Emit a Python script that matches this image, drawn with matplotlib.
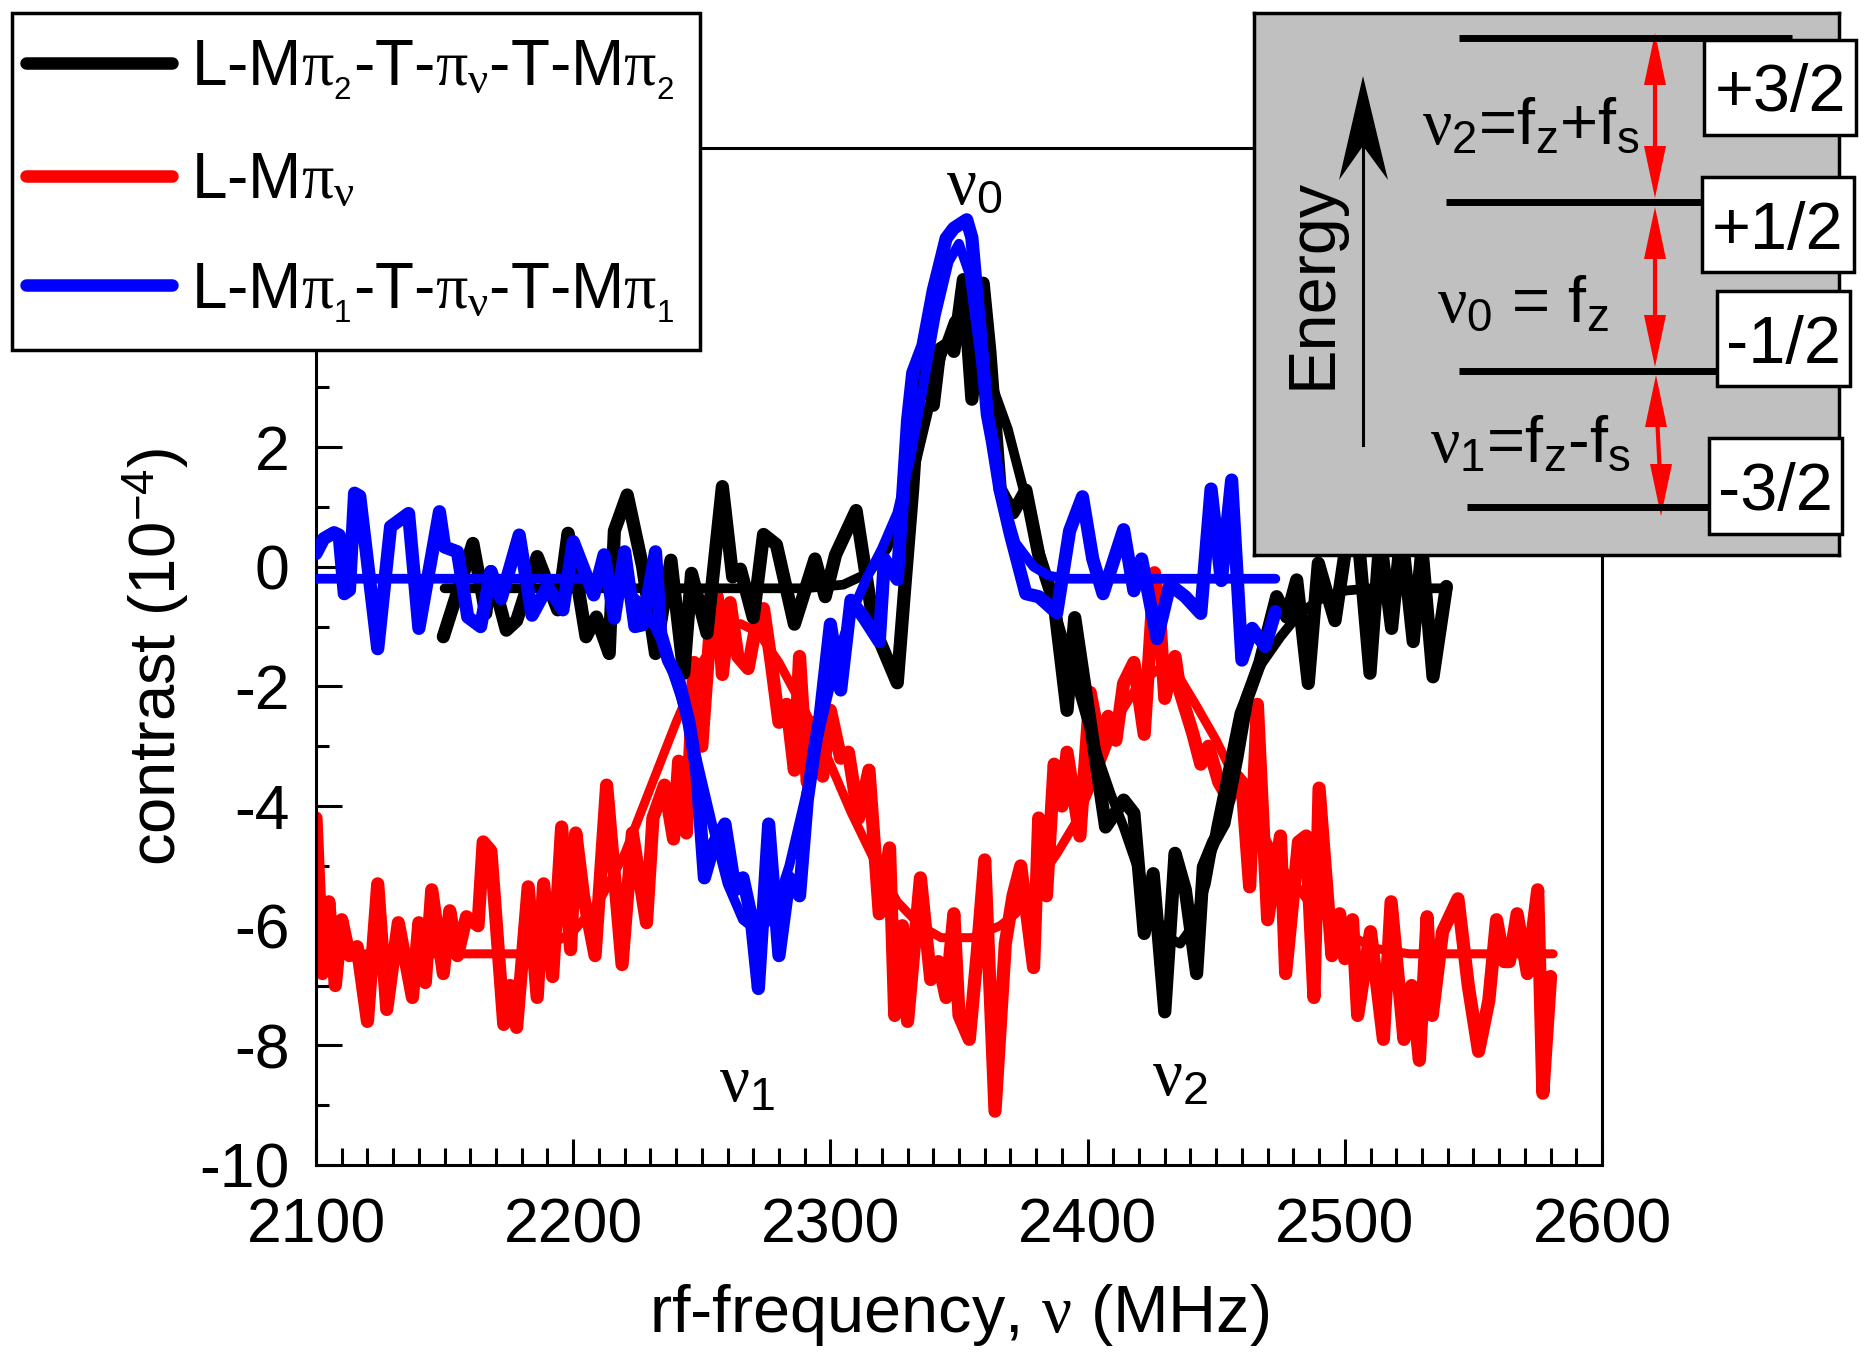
import matplotlib
matplotlib.use("Agg")
import matplotlib.pyplot as plt
import numpy as np
from matplotlib.patches import Rectangle, Polygon
from matplotlib.ticker import MultipleLocator

plt.rcParams['font.family'] = ['Liberation Sans', 'DejaVu Sans']
plt.rcParams['mathtext.fontset'] = 'custom'
plt.rcParams['mathtext.rm'] = 'Liberation Sans'
plt.rcParams['mathtext.it'] = 'Liberation Serif'
plt.rcParams['mathtext.bf'] = 'Liberation Sans:bold'
plt.rcParams['axes.unicode_minus'] = False

# ---- measured data (MHz, contrast in 1e-4) ----
red_f = [2100, 2102.5, 2105, 2107.5, 2110, 2113, 2116, 2120, 2124, 2127.5, 2132, 2137.5, 2140, 2142.5,
         2145, 2149.5, 2152, 2155, 2158.5, 2163, 2165, 2168, 2173, 2175.5, 2178, 2182.5, 2186, 2188.5,
         2192, 2195.5, 2199, 2201, 2204, 2208.5, 2213, 2219, 2223, 2228.5, 2231, 2235.5, 2239, 2241,
         2244, 2247, 2250, 2253, 2256, 2258, 2261, 2264, 2268, 2271, 2274, 2277, 2280, 2283, 2286,
         2288, 2291, 2294, 2297, 2300, 2304, 2307, 2311, 2315, 2319, 2323, 2325, 2328, 2330, 2335,
         2339, 2342, 2345, 2348, 2350, 2354, 2357, 2360, 2364, 2368, 2371, 2374, 2379, 2381, 2384,
         2387, 2390, 2392, 2397, 2401, 2405, 2408, 2411, 2414, 2418, 2422, 2426, 2428, 2430, 2434,
         2436, 2441, 2444, 2447, 2451, 2455, 2458, 2460, 2463, 2466, 2470, 2475, 2477, 2482, 2485,
         2488, 2490, 2495, 2498, 2500, 2503, 2505, 2510, 2515, 2518, 2523, 2526, 2529, 2532, 2534,
         2538, 2544, 2548, 2552, 2556, 2559, 2562, 2564, 2567, 2571, 2575, 2577, 2580]
red_c = [-4.2, -6.8, -5.6, -7.0, -5.9, -6.5, -6.35, -7.6, -5.3, -7.4, -5.95, -7.2, -5.95, -6.95,
         -5.4, -6.8, -5.75, -6.5, -5.85, -6.0, -4.6, -4.75, -7.65, -7.0, -7.7, -5.35, -7.2, -5.3,
         -6.85, -4.35, -6.4, -4.45, -5.5, -6.5, -3.65, -6.65, -4.45, -5.95, -4.2, -3.65, -4.55, -3.25,
         -4.45, -1.6, -3.0, -1.2, -0.5, -1.8, -0.6, -1.5, -1.7, -1.0, -0.7, -1.6, -2.6, -2.3, -3.4,
         -1.5, -3.6, -2.6, -3.5, -2.4, -3.2, -3.1, -4.2, -3.4, -5.8, -4.7, -7.5, -6.0, -7.6, -5.2,
         -6.9, -6.6, -7.2, -5.8, -7.5, -7.9, -6.5, -4.9, -9.1, -6.3, -5.5, -5.0, -6.7, -4.2, -5.5,
         -3.3, -4.0, -3.1, -4.5, -2.1, -3.0, -2.5, -2.9, -1.95, -1.6, -2.8, -0.1, -0.8, -2.2, -1.5,
         -2.1, -2.8, -3.3, -3.0, -3.6, -3.9, -3.5, -3.6, -5.35, -2.3, -5.9, -4.5, -6.8, -4.6, -4.5,
         -7.2, -3.7, -6.5, -5.8, -6.55, -5.9, -7.5, -6.1, -7.9, -5.6, -7.9, -7.0, -8.25, -5.85, -7.5,
         -6.1, -5.55, -7.0, -8.1, -7.25, -5.9, -6.6, -6.6, -5.8, -6.8, -5.4, -8.8, -6.85]

red_fit_f = [2100, 2180, 2190, 2200, 2210, 2220, 2230, 2240, 2250, 2258, 2265, 2272, 2280, 2290,
             2298, 2308, 2317, 2326, 2335, 2343, 2355, 2366, 2372, 2380, 2388, 2395, 2404, 2412,
             2420, 2428, 2435, 2442, 2450, 2458, 2466, 2475, 2486, 2499, 2512, 2525, 2581]
red_fit_c = [-6.47, -6.47, -6.35, -6.1, -5.6, -4.8, -3.7, -2.6, -1.6, -1.1, -0.95, -1.1, -1.6, -2.4,
             -3.1, -4.1, -4.9, -5.6, -6.0, -6.2, -6.2, -6.0, -5.8, -5.3, -4.8, -4.3, -3.4, -2.5,
             -1.95, -1.7, -1.8, -2.3, -2.9, -3.6, -4.3, -5.0, -5.6, -6.1, -6.38, -6.47, -6.47]

black_f = [2149.5, 2161, 2166, 2168, 2174, 2178, 2186, 2194, 2198, 2201, 2205, 2209, 2214, 2216,
           2221, 2227, 2232, 2238, 2243, 2246, 2252, 2258, 2262, 2265, 2270, 2274, 2279, 2286,
           2294, 2298, 2302, 2310, 2317, 2326, 2329, 2332, 2335.5, 2340, 2342.6, 2346.5, 2348,
           2351.7, 2355, 2359.4, 2362, 2366, 2371, 2376, 2381, 2387, 2392, 2395, 2401, 2407, 2411,
           2414, 2418, 2422, 2425.5, 2430, 2434, 2438, 2442.4, 2445, 2449, 2453, 2458, 2462, 2467,
           2473.5, 2477.4, 2481.3, 2485.8, 2489.7, 2492.3, 2496.2, 2501, 2505, 2509.8, 2513.7,
           2518.2, 2522, 2526.6, 2530, 2534.3, 2539.5]
black_c = [-1.17, 0.39, -0.78, -0.08, -1.06, -0.9, 0.17, -0.72, 0.56, -0.11, -1.17, -0.84, -1.45, 0.6,
           1.2, 0.0, -1.45, 0.11, -1.78, -0.11, -1.11, 1.34, -0.17, -0.04, -0.85, 0.54, 0.37, -0.96,
           0.13, -0.5, 0.2, 0.94, -1.02, -1.94, -0.3, 1.3, 3.6, 2.7, 3.64, 3.75, 3.6,
           4.8, 2.8, 4.74, 3.6, 1.3, 0.9, 1.28, 0.2, -0.6, -2.4, -0.85, -2.6, -4.35, -4.1,
           -3.9, -4.12, -6.13, -5.13, -7.44, -4.79, -5.4, -6.8, -5.02, -4.6, -4.29, -3.2, -2.2, -1.6,
           -0.5, -0.84, -0.22, -1.95, 0.06, -0.33, -0.9, 0.5, 0.6, -1.78, 0.5,
           -1.03, 0.6, -1.25, 0.3, -1.84, -0.33]

black_fit_f = [2150, 2290, 2305, 2315, 2322, 2328, 2333, 2338, 2343, 2348, 2352, 2356, 2360, 2364,
               2369, 2375, 2381, 2388, 2394, 2400, 2405, 2409, 2414, 2420, 2426, 2431, 2436, 2441,
               2446, 2450, 2455, 2459, 2464, 2468, 2475, 2482, 2490, 2500, 2510, 2540]
black_fit_c = [-0.36, -0.36, -0.3, -0.1, 0.3, 0.9, 1.7, 2.6, 3.5, 4.1, 4.3, 4.1, 3.4, 2.9,
               2.3, 1.3, 0.3, -0.84, -1.7, -2.6, -3.3, -3.8, -4.35, -5.1, -5.8, -6.2, -6.3, -6.0,
               -5.3, -4.35, -3.3, -2.45, -1.9, -1.6, -1.17, -0.8, -0.55, -0.4, -0.36, -0.36]

blue_f = [2100, 2103, 2107, 2109, 2111, 2113, 2115, 2117, 2124, 2129, 2136, 2140, 2148, 2150, 2155,
          2159, 2164, 2168, 2172, 2179, 2184, 2190, 2196, 2200, 2208, 2212, 2216, 2220, 2224, 2227,
          2232, 2234, 2237, 2241, 2245, 2248, 2251, 2255, 2259, 2263, 2266, 2269, 2272, 2276, 2280,
          2284, 2288, 2291, 2294, 2296, 2300, 2304, 2308, 2313, 2319, 2321, 2326, 2330, 2332, 2336,
          2340, 2343, 2345, 2348, 2353, 2355, 2358, 2361, 2363, 2366, 2370, 2376, 2381, 2388, 2393,
          2398, 2402, 2406, 2414, 2418, 2421, 2427, 2432, 2438, 2444, 2448, 2452, 2456, 2460, 2464,
          2469, 2473]
blue_c = [0.22, 0.47, 0.57, 0.53, -0.45, -0.39, 1.23, 1.18, -1.37, 0.67, 0.89, -1.03, 0.92, 0.33, 0.25,
          -0.84, -1.0, -0.08, -0.53, 0.53, -0.81, -0.33, -0.72, 0.42, -0.47, 0.2, -0.86, 0.25, -1.0, -0.97,
          0.25, -1.11, -1.56, -1.9, -2.6, -3.4, -5.2, -4.6, -4.3, -5.4, -5.2, -5.8, -7.05, -4.3, -6.5,
          -5.2, -5.5, -3.9, -3.0, -2.5, -0.96, -2.06, -0.56, -0.85, -1.25, 0.13, -0.21, 2.44, 3.24, 3.7,
          4.62, 5.14, 5.49, 5.66, 5.8, 5.5, 4.05, 2.55, 2.09, 1.28, 0.54, -0.45, -0.5, -0.77, 0.6,
          1.17, 0.13, -0.45, 0.62, -0.4, 0.13, -1.2, -0.3, -0.5, -0.78, 1.3, -0.23, 1.45, -1.56, -1.03,
          -1.33, -0.75]

blue_fit_f = [2100, 2200, 2212, 2220, 2228, 2235, 2242, 2248, 2254, 2260, 2266, 2272, 2278, 2284,
              2290, 2296, 2302, 2308, 2314, 2320, 2326, 2331, 2336, 2341, 2346, 2350, 2354, 2358,
              2362, 2366, 2372, 2379, 2385, 2392, 2473]
blue_fit_c = [-0.2, -0.2, -0.22, -0.35, -0.7, -1.3, -2.2, -3.2, -4.3, -5.3, -5.9, -6.1, -5.8, -5.0,
              -3.9, -2.7, -1.6, -0.8, -0.2, 0.3, 0.9, 1.8, 3.0, 4.2, 5.1, 5.4, 4.9, 3.6,
              2.3, 1.3, 0.4, 0.0, -0.15, -0.2, -0.2]

labels = [r'L-M$\pi_{_{2}}$-T-$\pi_{\nu}$-T-M$\pi_{_{2}}$',
          r'L-M$\pi_{\nu}$',
          r'L-M$\pi_{_{1}}$-T-$\pi_{\nu}$-T-M$\pi_{_{1}}$']
levels = ['+3/2', '+1/2', '-1/2', '-3/2']
yticks = [-10, -8, -6, -4, -2, 0, 2, 4, 6]
yticklabels = ['-10', '-8', '-6', '-4', '-2', '0', '2', '', '']  # 4 and 6 sit under the legend

W, H = 1870, 1362
fig = plt.figure(figsize=(W / 100, H / 100), dpi=100)
ax = fig.add_axes([316 / W, 1 - 1165 / H, (1602 - 316) / W, (1165 - 148) / H])

kw = dict(solid_joinstyle='round', solid_capstyle='round')
l_red, = ax.plot(red_f, red_c, color='#ff0000', lw=9.5, zorder=2, **kw)
ax.plot(red_fit_f, red_fit_c, color='#ff0000', lw=6.5, zorder=2.1, **kw)
l_blk, = ax.plot(black_f, black_c, color='black', lw=9.5, zorder=3, **kw)
ax.plot(black_fit_f, black_fit_c, color='black', lw=7, zorder=3.1, **kw)
l_blu, = ax.plot(blue_f, blue_c, color='#0000ff', lw=9.5, zorder=4, **kw)
ax.plot(blue_fit_f, blue_fit_c, color='#0000ff', lw=7, zorder=4.1, **kw)

ax.set_xlim(2100, 2600)
ax.set_ylim(-10, 7)
ax.xaxis.set_major_locator(MultipleLocator(100))
ax.xaxis.set_minor_locator(MultipleLocator(10))
ax.set_yticks(yticks)
ax.set_yticklabels(yticklabels)
ax.yaxis.set_minor_locator(MultipleLocator(1))
ax.tick_params(which='both', direction='in', top=False, right=False, width=2.2, labelsize=45)
ax.tick_params(which='major', length=18.5)
ax.xaxis.set_tick_params(which='minor', length=12)
ax.yaxis.set_tick_params(which='minor', length=9)
ax.tick_params(axis='x', pad=23)
ax.tick_params(axis='y', pad=19)
for s in ax.spines.values():
    s.set_linewidth(2.2)

ax.set_xlabel(r'rf-frequency, $\nu$ (MHz)', fontsize=48)
ax.set_ylabel(r'contrast (10$^{-4}$)', fontsize=47)
ax.xaxis.set_label_coords(0.5, -0.115)
ax.yaxis.set_label_coords(-0.097, 0.5)

ax.text(2356, 6.35, r'$\nu_{0}$', fontsize=48, ha='center', va='center')
ax.text(2267.5, -8.65, r'$\nu_{1}$', fontsize=48, ha='center', va='center')
ax.text(2436, -8.55, r'$\nu_{2}$', fontsize=48, ha='center', va='center')

leg = fig.legend(handles=[l_blk, l_red, l_blu], labels=labels, loc='upper left',
                 bbox_to_anchor=(12 / W, 1 - 13 / H), bbox_transform=fig.transFigure,
                 fontsize=46, handlelength=2.1, handletextpad=0.3, borderpad=0.4,
                 labelspacing=0.77, borderaxespad=0, fancybox=False, edgecolor='black',
                 framealpha=1)
leg.get_frame().set_linewidth(2.5)
for ln in leg.get_lines():
    ln.set_linewidth(9)
    xd = np.array(ln.get_xdata(), dtype=float)
    xd[0] -= 8
    ln.set_xdata(xd)

# ---- energy level inset (pixel units inside the box) ----
axi = fig.add_axes([1254 / W, 1 - 555 / H, 585 / W, 542 / H], zorder=5)
axi.set_xlim(1254, 1839)
axi.set_ylim(555, 13)
axi.set_facecolor('#c0c0c0')
axi.set_xticks([])
axi.set_yticks([])
for s in axi.spines.values():
    s.set_linewidth(2.5)

level_y = [38, 202, 371, 507]
level_x = [(1459, 1792), (1446, 1703), (1459, 1716), (1467, 1708)]
boxes = [(1704, 40, 152, 95), (1702, 177, 152, 95), (1717, 291, 133, 95), (1709, 438, 133, 96)]
for y, (x0, x1) in zip(level_y, level_x):
    axi.plot([x0, x1], [y, y], color='black', lw=5, solid_capstyle='butt')
for (bx, by, bw, bh), txt in zip(boxes, levels):
    axi.add_patch(Rectangle((bx, by), bw, bh, facecolor='white', edgecolor='black',
                            lw=2.5, clip_on=False, zorder=4))
    axi.text(bx + bw / 2, by + bh / 2, txt, fontsize=48, ha='center', va='center_baseline',
             clip_on=False, zorder=5)

# red double arrows between levels
arrows = [(1655, 1655, 33, 198), (1655, 1655, 207, 367), (1656, 1661, 375, 516)]
for xa, xb, ya, yb in arrows:
    axi.plot([xa, xb], [ya + 20, yb - 20], color='#ff0000', lw=3)
    axi.add_patch(Polygon([(xa, ya), (xa - 11, ya + 52), (xa + 11, ya + 52)], closed=True,
                          color='#ff0000', lw=0))
    axi.add_patch(Polygon([(xb, yb), (xb - 11, yb - 52), (xb + 11, yb - 52)], closed=True,
                          color='#ff0000', lw=0))

# energy axis arrow
axi.plot([1363, 1363], [445, 140], color='black', lw=2.2)
axi.add_patch(Polygon([(1363, 76), (1388, 180), (1363, 146), (1339, 180)], closed=True,
                      color='black', lw=0))
axi.text(1314, 283, 'Energy', fontsize=48, rotation=90, ha='center', va='center')

axi.text(1422, 144, r'$\nu_{2}$=f$_{\mathrm{z}}$+f$_{\mathrm{s}}$', fontsize=47, ha='left',
         va='baseline')
axi.text(1437, 322, r'$\nu_{0}$ = f$_{\mathrm{z}}$', fontsize=47, ha='left', va='baseline')
axi.text(1430, 462, r'$\nu_{1}$=f$_{\mathrm{z}}$-f$_{\mathrm{s}}$', fontsize=47, ha='left',
         va='baseline')

fig.savefig('out.png', dpi=100)
